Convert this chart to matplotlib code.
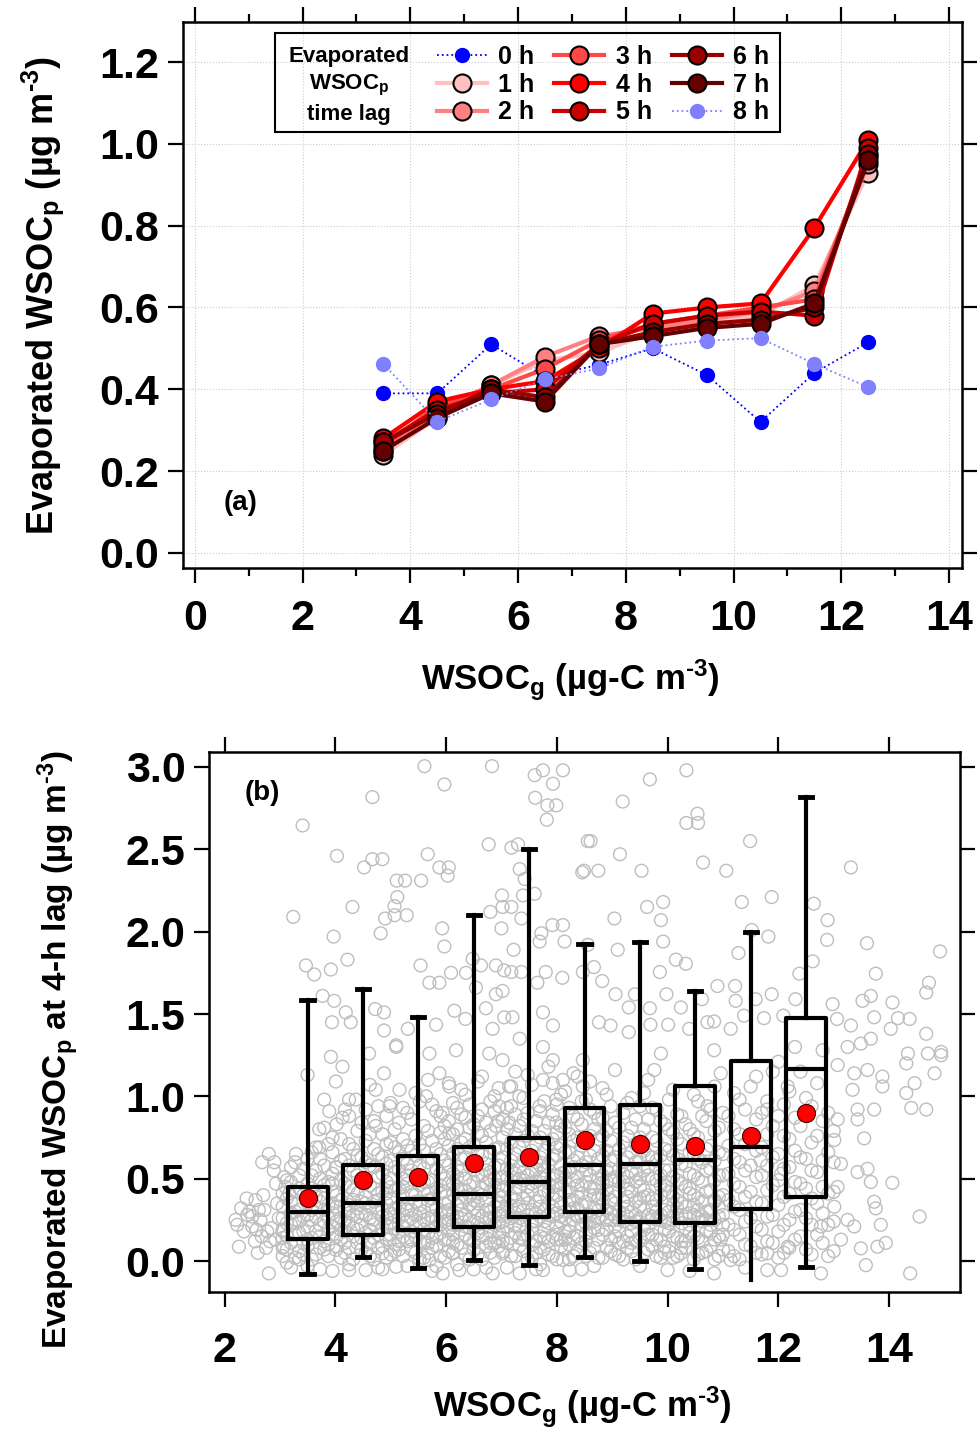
import numpy as np
import matplotlib
matplotlib.use("Agg")
import matplotlib.pyplot as plt
from matplotlib.patches import Rectangle

plt.rcParams['font.family'] = ['Liberation Sans', 'DejaVu Sans']
plt.rcParams['font.weight'] = 'bold'
plt.rcParams['axes.labelweight'] = 'bold'
plt.rcParams['mathtext.fontset'] = 'custom'
plt.rcParams['mathtext.rm'] = 'Liberation Sans:bold'
plt.rcParams['mathtext.it'] = 'Liberation Sans:bold'
plt.rcParams['mathtext.bf'] = 'Liberation Sans:bold'
plt.rcParams['mathtext.default'] = 'rm'

# ---- panel (a): evaporated WSOCp vs WSOCg, per time lag ----
wsocg_bins = [3.5, 4.5, 5.5, 6.5, 7.5, 8.5, 9.5, 10.5, 11.5, 12.5]
lag_labels = ['0 h', '1 h', '2 h', '3 h', '4 h', '5 h', '6 h', '7 h', '8 h']
lag_colors = ['#0000FF', '#FFC0C0', '#FF8080', '#FF4848', '#FF0000',
              '#CC0000', '#990000', '#640000', '#8080FF']
lag_0h = [0.39, 0.39, 0.51, 0.43, 0.46, 0.50, 0.435, 0.32, 0.44, 0.515]
lag_1h = [0.24, 0.33, 0.41, 0.47, 0.49, 0.54, 0.56, 0.58, 0.655, 0.93]
lag_2h = [0.25, 0.35, 0.41, 0.48, 0.53, 0.55, 0.57, 0.59, 0.64, 0.95]
lag_3h = [0.26, 0.36, 0.40, 0.45, 0.52, 0.56, 0.58, 0.60, 0.62, 0.97]
lag_4h = [0.28, 0.37, 0.40, 0.42, 0.50, 0.585, 0.60, 0.61, 0.795, 1.01]
lag_5h = [0.27, 0.35, 0.39, 0.40, 0.51, 0.56, 0.58, 0.59, 0.58, 0.99]
lag_6h = [0.27, 0.34, 0.40, 0.38, 0.51, 0.54, 0.56, 0.57, 0.60, 0.975]
lag_7h = [0.25, 0.33, 0.39, 0.37, 0.51, 0.53, 0.55, 0.56, 0.61, 0.96]
lag_8h = [0.462, 0.321, 0.375, 0.424, 0.451, 0.504, 0.519, 0.525, 0.462, 0.405]
lag_series = [lag_0h, lag_1h, lag_2h, lag_3h, lag_4h, lag_5h, lag_6h, lag_7h, lag_8h]

# ---- panel (b): box stats at 4-h lag ----
box_x = [3.5, 4.5, 5.5, 6.5, 7.5, 8.5, 9.5, 10.5, 11.5, 12.5]
box_q1 = [0.134, 0.158, 0.188, 0.208, 0.265, 0.30, 0.239, 0.229, 0.314, 0.387]
box_med = [0.296, 0.35, 0.375, 0.407, 0.482, 0.586, 0.589, 0.613, 0.694, 1.164]
box_q3 = [0.451, 0.583, 0.64, 0.69, 0.745, 0.93, 0.947, 1.063, 1.216, 1.474]
box_lo = [-0.079, 0.026, -0.045, 0.006, -0.024, 0.026, 0.002, -0.05, -0.115, -0.035]
box_hi = [1.585, 1.653, 1.48, 2.10, 2.50, 1.925, 1.935, 1.638, 2.00, 2.817]
box_mean = [0.38, 0.49, 0.512, 0.597, 0.633, 0.735, 0.71, 0.70, 0.759, 0.897]

# individual points
pts_upper = [
    (5.61, 3.005), (6.83, 3.005), (5.97, 2.894), (4.67, 2.817), (3.41, 2.645), (7.60, 2.95),
    (7.75, 2.98), (8.11, 2.98), (7.93, 2.898), (7.61, 2.813), (7.83, 2.767), (7.99, 2.767),
    (7.82, 2.68), (6.77, 2.53), (7.18, 2.51), (7.30, 2.53), (8.56, 2.55), (4.03, 2.46),
    (4.52, 2.39), (4.67, 2.44), (4.85, 2.44), (5.67, 2.47), (5.88, 2.39), (6.05, 2.39),
    (6.03, 2.34), (5.11, 2.31), (5.26, 2.31), (5.55, 2.31), (5.12, 2.21), (5.07, 2.155),
    (4.90, 2.08), (5.07, 2.10), (5.29, 2.10), (4.82, 1.99), (4.31, 2.15), (3.24, 2.09),
    (3.97, 1.97), (4.22, 1.83), (3.47, 1.795), (3.62, 1.74), (3.92, 1.77), (5.54, 1.795),
    (5.93, 2.02), (5.97, 1.91), (5.70, 1.69), (5.88, 1.69), (6.09, 1.75), (6.36, 1.75),
    (3.77, 1.61), (3.98, 1.58), (3.94, 1.45), (4.19, 1.51), (4.28, 1.45), (4.72, 1.53),
    (4.88, 1.51), (4.88, 1.40), (5.31, 1.41), (5.10, 1.31), (5.82, 1.435), (6.15, 1.52),
    (6.35, 1.47), (6.48, 1.835), (6.63, 1.795), (6.90, 1.795), (7.05, 1.765), (7.18, 1.755),
    (7.36, 1.755), (6.54, 1.66), (6.90, 1.62), (7.02, 1.64), (6.72, 1.535), (7.05, 1.48),
    (7.20, 1.48), (6.84, 1.41), (7.33, 1.35), (6.80, 2.12), (7.01, 2.22), (7.02, 2.15),
    (7.18, 2.15), (7.33, 2.38), (7.42, 2.32), (7.39, 2.22), (7.60, 2.23), (7.36, 2.08),
    (7.00, 2.02), (7.22, 1.89), (7.72, 1.99), (7.92, 2.04), (8.11, 2.04), (8.14, 1.94),
    (7.69, 1.94), (7.80, 1.755), (8.10, 1.72), (7.65, 1.69), (7.75, 1.51), (7.93, 1.43),
    (8.46, 2.36), (8.47, 1.755),
    (10.34, 2.98), (9.68, 2.925), (9.19, 2.79), (10.54, 2.716), (10.34, 2.66), (10.55, 2.66),
    (8.61, 2.55), (11.49, 2.55), (9.14, 2.47), (8.49, 2.37), (8.75, 2.37), (9.53, 2.37),
    (10.64, 2.42), (11.06, 2.37), (13.31, 2.39), (9.92, 2.18), (9.63, 2.15), (9.88, 2.07),
    (9.04, 2.08), (11.34, 2.18), (11.88, 2.21), (12.64, 2.17), (12.89, 2.07), (12.88, 1.95),
    (11.52, 2.01), (11.82, 1.97), (13.60, 1.93), (14.92, 1.88), (8.56, 1.92), (9.10, 1.89),
    (9.92, 1.94), (11.28, 1.87), (10.15, 1.83), (10.33, 1.805), (9.86, 1.755), (8.67, 1.785),
    (8.82, 1.70), (12.62, 1.82), (12.38, 1.745), (13.76, 1.745), (14.72, 1.69), (14.67, 1.63),
    (10.90, 1.67), (11.22, 1.67), (9.98, 1.62), (9.06, 1.62), (9.41, 1.62), (9.68, 1.535),
    (11.88, 1.62), (13.52, 1.58), (13.67, 1.61), (14.06, 1.57), (12.98, 1.56), (12.31, 1.59),
    (10.62, 1.59), (11.23, 1.58), (11.59, 1.59), (10.24, 1.54), (9.30, 1.54), (9.69, 1.435),
    (10.01, 1.435), (11.74, 1.475), (11.38, 1.49), (12.09, 1.49), (13.06, 1.47), (13.31, 1.43),
    (13.73, 1.48), (14.16, 1.475), (14.37, 1.47), (14.67, 1.38), (10.84, 1.455), (11.14, 1.41),
    (8.97, 1.43), (8.76, 1.45), (9.30, 1.39), (10.39, 1.41), (10.72, 1.45), (14.03, 1.41),
    (13.67, 1.35), (13.49, 1.32), (14.94, 1.27),
]
pts_lower = [
    (2.26, 0.087), (2.80, -0.075), (2.23, 0.22), (2.41, 0.28), (2.62, 0.31), (2.68, 0.60),
    (2.80, 0.65), (2.89, 0.55), (3.08, 0.51), (2.93, 0.47), (2.56, 0.37), (2.77, 0.18),
    (2.92, 0.13), (2.50, 0.21), (3.29, 0.65), (3.17, 0.41), (3.07, 0.087), (3.92, 1.24),
    (4.13, 1.18), (3.50, 1.13), (4.01, 1.09), (3.80, 0.98), (3.89, 0.91), (4.13, 0.87),
    (3.71, 0.80), (3.95, 0.75), (3.71, 0.69), (4.25, 0.98), (4.37, 0.98), (4.61, 1.26),
    (5.10, 1.30), (4.88, 1.14), (5.16, 1.04), (4.73, 1.04), (4.98, 0.94), (4.73, 0.82),
    (4.01, 0.57), (3.95, 0.47), (4.01, 0.067), (4.25, -0.055), (4.55, -0.055), (4.85, 0.047),
    (5.10, -0.035), (4.98, 0.13), (4.92, 0.41), (5.70, 1.26), (5.88, 1.14), (6.18, 1.28),
    (6.06, 1.06), (5.64, 1.00), (5.94, 0.90), (6.06, 0.775), (5.70, 0.006), (5.94, -0.075),
    (6.12, 0.047), (6.24, -0.055), (6.78, 1.26), (7.02, 1.22), (7.14, 1.06), (6.96, 0.94),
    (6.90, 0.82), (7.14, 0.84), (6.96, 0.17), (7.02, 0.047), (6.84, -0.075), (7.33, -0.075),
    (7.75, 1.30), (7.93, 1.22), (7.75, 1.10), (8.11, 1.10), (7.99, 0.98), (7.69, 0.94),
    (7.99, 0.84), (7.99, 0.13), (8.11, 0.006), (7.75, -0.055), (8.23, -0.055), (8.47, 1.22),
    (8.47, 1.06),
    (14.55, 0.27), (14.38, -0.075), (13.58, -0.025), (13.49, 0.077), (13.94, 0.11), (13.79, 0.087),
    (13.85, 0.22), (13.76, 0.32), (13.73, 0.36), (13.37, 0.21), (13.25, 0.25), (14.06, 0.475),
    (13.67, 0.48), (13.61, 0.56), (13.43, 0.54), (13.55, 0.745), (13.73, 0.92), (13.43, 0.92),
    (13.43, 0.86), (13.34, 1.04), (13.37, 1.14), (13.61, 1.16), (13.88, 1.12), (13.88, 1.06),
    (14.31, 1.02), (14.40, 0.93), (14.67, 0.92), (14.46, 1.08), (14.31, 1.20), (14.82, 1.14),
    (14.70, 1.26), (14.94, 1.25), (14.34, 1.26), (13.25, 1.30), (13.07, 1.19), (13.01, 0.735),
    (13.13, 0.59), (13.07, 0.45), (13.01, 0.33), (12.77, 0.21), (12.77, -0.075), (13.13, 0.13),
    (12.17, 0.087), (11.80, 0.047), (11.80, -0.055), (12.05, -0.055), (10.96, 0.13), (11.14, 0.006),
    (10.84, -0.075), (10.00, -0.055), (9.94, 0.087), (10.24, 0.047), (12.17, 1.06), (12.05, 0.53),
    (13.07, 0.86), (11.80, 0.92), (11.68, 0.61), (10.72, 0.94), (10.96, 1.14), (10.84, 1.28),
    (9.88, 1.26), (9.76, 1.16),
    (2.2, 0.25), (2.35, 0.18), (2.45, 0.30), (2.55, 0.12), (2.65, 0.25), (2.7, 0.40), (2.85, 0.20),
    (2.95, 0.35), (3.05, 0.18), (2.6, 0.05), (2.75, 0.08), (2.4, 0.38), (3.1, 0.45), (2.9, 0.60),
    (2.3, 0.32), (2.5, 0.27), (2.58, 0.19), (2.72, 0.31), (2.82, 0.12), (2.98, 0.26), (2.67, 0.15),
]
# dense cloud, read column by column (x: list of y)
core_cols = {
    3.05: [0.03, 0.14, 0.26, 0.33, 0.41, 0.19, 0.08],
    3.20: [-0.04, 0.11, 0.22, 0.36, 0.48, 0.29, 0.57],
    3.35: [0.06, 0.17, 0.31, 0.44, 0.24, 0.52, 0.01],
    3.50: [0.09, 0.21, 0.35, 0.47, 0.62, 0.28, 0.13, -0.03],
    3.65: [0.04, 0.18, 0.27, 0.39, 0.55, 0.33, 0.69],
    3.80: [0.12, 0.24, 0.38, 0.46, 0.07, 0.58, 0.31, 0.81],
    3.95: [-0.06, 0.16, 0.29, 0.42, 0.53, 0.21, 0.66, 0.35],
    4.10: [0.02, 0.13, 0.26, 0.37, 0.49, 0.61, 0.74, 0.19],
    4.25: [0.08, 0.23, 0.34, 0.45, 0.58, 0.29, 0.71, 0.88, -0.02],
    4.40: [0.11, 0.19, 0.32, 0.41, 0.52, 0.64, 0.27, 0.79],
    4.55: [0.05, 0.17, 0.28, 0.39, 0.48, 0.60, 0.35, 0.92, 0.73],
    4.70: [0.01, 0.14, 0.25, 0.36, 0.44, 0.57, 0.68, 0.22, 0.85],
    4.85: [0.09, 0.20, 0.31, 0.42, 0.53, 0.63, 0.27, 0.77, -0.05],
    5.00: [0.04, 0.16, 0.29, 0.38, 0.50, 0.61, 0.72, 0.23, 0.96, 0.45],
    5.15: [0.07, 0.18, 0.33, 0.44, 0.55, 0.66, 0.26, 0.84, 0.12],
    5.30: [-0.03, 0.12, 0.24, 0.35, 0.47, 0.59, 0.70, 0.31, 0.90, 0.52],
    5.45: [0.05, 0.15, 0.28, 0.40, 0.51, 0.64, 0.76, 0.21, 1.02, 0.36],
    5.60: [0.02, 0.19, 0.30, 0.43, 0.56, 0.67, 0.25, 0.82, 0.11, 0.48],
    5.75: [0.08, 0.14, 0.27, 0.38, 0.49, 0.62, 0.73, 0.33, 0.95, -0.06],
    5.90: [0.03, 0.17, 0.29, 0.41, 0.53, 0.65, 0.78, 0.22, 0.88, 0.46],
    6.05: [0.06, 0.13, 0.25, 0.36, 0.47, 0.58, 0.70, 0.31, 1.08, 0.85, 0.19],
    6.20: [-0.02, 0.10, 0.22, 0.34, 0.45, 0.57, 0.68, 0.27, 0.80, 0.51, 0.93],
    6.35: [0.04, 0.16, 0.28, 0.39, 0.50, 0.63, 0.74, 0.21, 0.87, 0.43, 1.01],
    6.50: [0.07, 0.12, 0.24, 0.37, 0.48, 0.60, 0.71, 0.32, 0.83, 0.55, -0.05],
    6.65: [0.01, 0.15, 0.27, 0.40, 0.52, 0.64, 0.76, 0.20, 0.92, 0.44, 1.12],
    6.80: [0.05, 0.18, 0.30, 0.42, 0.54, 0.66, 0.26, 0.79, 0.11, 0.49, 0.97],
    6.95: [0.09, 0.14, 0.23, 0.35, 0.46, 0.58, 0.69, 0.29, 0.85, 0.40, 1.05],
    7.10: [-0.04, 0.11, 0.21, 0.33, 0.45, 0.56, 0.68, 0.80, 0.27, 0.50, 0.93],
    7.25: [0.03, 0.17, 0.29, 0.41, 0.53, 0.65, 0.77, 0.22, 0.89, 0.37, 1.15],
    7.40: [0.06, 0.13, 0.25, 0.38, 0.49, 0.61, 0.73, 0.31, 0.86, 0.54, 0.99],
    7.55: [0.02, 0.19, 0.31, 0.43, 0.55, 0.67, 0.24, 0.79, 0.10, 0.47, 1.07],
    7.70: [0.08, 0.15, 0.27, 0.39, 0.51, 0.63, 0.75, 0.33, 0.91, 0.58, -0.02],
    7.85: [0.04, 0.12, 0.23, 0.35, 0.47, 0.59, 0.71, 0.28, 0.84, 0.42, 1.18],
    8.00: [0.01, 0.16, 0.29, 0.40, 0.52, 0.64, 0.78, 0.21, 0.95, 0.46, 0.69],
    8.15: [0.07, 0.18, 0.30, 0.42, 0.54, 0.66, 0.26, 0.81, 0.13, 0.50, 1.03],
    8.30: [0.03, 0.14, 0.25, 0.37, 0.49, 0.61, 0.73, 0.32, 0.88, 0.57, 1.14],
    8.45: [-0.05, 0.11, 0.22, 0.34, 0.46, 0.58, 0.70, 0.27, 0.83, 0.41, 0.97],
    8.60: [0.05, 0.17, 0.28, 0.40, 0.52, 0.64, 0.76, 0.23, 0.92, 0.45, 1.09],
    8.75: [0.02, 0.13, 0.26, 0.38, 0.50, 0.62, 0.74, 0.31, 0.86, 0.55, 0.19],
    8.90: [0.08, 0.19, 0.31, 0.43, 0.55, 0.67, 0.79, 0.25, 1.01, 0.48],
    9.05: [0.04, 0.15, 0.27, 0.39, 0.51, 0.63, 0.21, 0.84, 0.35, 1.16],
    9.20: [0.01, 0.12, 0.24, 0.36, 0.48, 0.60, 0.72, 0.29, 0.90, 0.53],
    9.35: [0.06, 0.18, 0.30, 0.42, 0.54, 0.66, 0.23, 0.81, 0.11, 0.99],
    9.50: [-0.03, 0.14, 0.26, 0.38, 0.50, 0.62, 0.75, 0.33, 0.94, 0.45],
    9.65: [0.07, 0.16, 0.28, 0.40, 0.52, 0.64, 0.21, 0.86, 0.57, 1.10],
    9.80: [0.03, 0.13, 0.25, 0.37, 0.49, 0.61, 0.73, 0.30, 0.92],
    9.95: [0.05, 0.19, 0.31, 0.43, 0.55, 0.68, 0.24, 0.83, 0.46],
    10.10: [0.02, 0.15, 0.27, 0.39, 0.51, 0.64, 0.78, 0.34, 1.04],
    10.25: [0.08, 0.12, 0.23, 0.35, 0.47, 0.59, 0.71, 0.28, 0.88],
    10.40: [-0.06, 0.17, 0.29, 0.41, 0.53, 0.66, 0.22, 0.80, 0.44],
    10.55: [0.04, 0.14, 0.26, 0.38, 0.50, 0.62, 0.75, 0.31, 0.97],
    10.70: [0.06, 0.18, 0.30, 0.42, 0.55, 0.68, 0.25, 0.85],
    10.85: [0.01, 0.13, 0.25, 0.37, 0.49, 0.61, 0.36, 0.79, 1.06],
    11.00: [0.07, 0.16, 0.28, 0.40, 0.52, 0.65, 0.22, 0.90],
    11.20: [0.03, 0.19, 0.33, 0.47, 0.62, 0.80, 1.02],
    11.40: [0.10, 0.24, 0.39, 0.55, 0.71, 0.92, -0.04],
    11.60: [0.05, 0.21, 0.36, 0.51, 0.67, 0.86, 1.12],
    11.80: [0.12, 0.27, 0.43, 0.58, 0.77, 0.97],
    12.00: [0.02, 0.18, 0.34, 0.49, 0.65, 0.88, 1.21],
    12.20: [0.08, 0.25, 0.41, 0.57, 0.74, 1.03],
    12.40: [0.15, 0.31, 0.47, 0.63, 0.82, 1.15],
    12.60: [0.04, 0.22, 0.38, 0.55, 0.72, 0.94],
    12.80: [0.11, 0.29, 0.45, 0.61, 0.85, 1.28],
    13.00: [0.06, 0.24, 0.42, 0.60, 0.79],
}
core_cols_mid = {
    3.125: [0.07, 0.23, 0.38, 0.15, 0.49, -0.01],
    3.275: [0.02, 0.16, 0.30, 0.42, 0.60, 0.25],
    3.425: [0.11, 0.27, 0.40, 0.04, 0.56, 0.18],
    3.575: [0.01, 0.14, 0.31, 0.44, 0.25, 0.66, 0.52],
    3.725: [0.08, 0.22, 0.36, 0.50, 0.15, 0.62, -0.05],
    3.875: [0.03, 0.19, 0.34, 0.48, 0.26, 0.71, 0.10],
    4.025: [0.09, 0.24, 0.40, 0.57, 0.15, 0.33, 0.83],
    4.175: [0.05, 0.18, 0.31, 0.47, 0.62, 0.24, 0.92, 0.11],
    4.325: [0.01, 0.15, 0.28, 0.43, 0.55, 0.68, 0.37, 0.20],
    4.475: [0.07, 0.22, 0.36, 0.50, 0.63, 0.84, 0.14, 0.29],
    4.625: [0.03, 0.19, 0.33, 0.46, 0.58, 0.77, 0.11, 0.26, 1.07],
    4.775: [0.08, 0.16, 0.30, 0.41, 0.51, 0.65, 0.37, 0.94, -0.04],
    4.925: [0.02, 0.13, 0.26, 0.35, 0.48, 0.59, 0.71, 0.21, 0.88],
    5.075: [0.10, 0.20, 0.32, 0.43, 0.57, 0.69, 0.80, 0.27, 0.06],
    5.225: [0.03, 0.15, 0.28, 0.39, 0.50, 0.62, 0.74, 0.21, 0.93, 0.45],
    5.375: [0.07, 0.18, 0.31, 0.42, 0.55, 0.67, 0.26, 0.86, 0.13],
    5.525: [0.01, 0.12, 0.23, 0.34, 0.46, 0.58, 0.71, 0.29, 0.97, 0.52],
    5.675: [0.05, 0.17, 0.26, 0.37, 0.48, 0.60, 0.79, 0.41, 1.10, 0.11],
    5.825: [0.09, 0.21, 0.32, 0.44, 0.56, 0.68, 0.25, 0.91, -0.03, 0.15],
    5.975: [0.02, 0.13, 0.24, 0.35, 0.50, 0.61, 0.74, 0.30, 0.82, 0.42],
    6.125: [0.05, 0.16, 0.28, 0.40, 0.53, 0.65, 0.77, 0.22, 0.96, 0.11, 0.47],
    6.275: [0.08, 0.19, 0.31, 0.43, 0.55, 0.62, 0.72, 0.26, 0.89, 0.36, 1.04],
    6.425: [0.01, 0.13, 0.25, 0.34, 0.46, 0.58, 0.69, 0.81, 0.20, 0.40, 0.95],
    6.575: [0.04, 0.17, 0.29, 0.41, 0.52, 0.66, 0.78, 0.23, 0.88, 0.35, 1.09],
    6.725: [0.09, 0.14, 0.26, 0.37, 0.47, 0.59, 0.72, 0.31, 0.84, 0.55, -0.04],
    6.875: [0.02, 0.11, 0.22, 0.33, 0.45, 0.57, 0.68, 0.27, 0.91, 0.50, 1.00],
    7.025: [0.06, 0.18, 0.30, 0.39, 0.51, 0.63, 0.75, 0.24, 0.86, 0.43, 0.12],
    7.175: [0.03, 0.14, 0.26, 0.38, 0.49, 0.61, 0.72, 0.33, 0.94, 0.55, 1.06],
    7.325: [0.09, 0.21, 0.33, 0.45, 0.57, 0.69, 0.26, 0.82, 0.14, 0.50, 1.00],
    7.475: [0.01, 0.16, 0.28, 0.40, 0.52, 0.64, 0.76, 0.35, 0.90, 0.45, 1.13],
    7.625: [0.05, 0.12, 0.24, 0.36, 0.48, 0.60, 0.71, 0.29, 0.85, 0.55, -0.05],
    7.775: [0.07, 0.19, 0.31, 0.43, 0.55, 0.67, 0.79, 0.24, 0.97, 0.14, 0.50],
    7.925: [0.03, 0.15, 0.27, 0.38, 0.50, 0.62, 0.74, 0.33, 0.89, 0.45, 1.08],
    8.075: [0.09, 0.13, 0.24, 0.35, 0.47, 0.58, 0.70, 0.27, 0.82, 0.53, 1.01],
    8.225: [0.01, 0.18, 0.30, 0.42, 0.54, 0.66, 0.77, 0.22, 0.93, 0.37, 0.10],
    8.375: [0.06, 0.15, 0.27, 0.39, 0.51, 0.63, 0.75, 0.32, 0.86, 0.46, 1.12],
    8.525: [0.03, 0.12, 0.23, 0.36, 0.48, 0.60, 0.72, 0.28, 0.98, 0.55, 0.17],
    8.675: [0.08, 0.20, 0.32, 0.44, 0.56, 0.67, 0.80, 0.24, 0.90, 0.40, -0.03],
    8.825: [0.02, 0.16, 0.28, 0.40, 0.52, 0.64, 0.76, 0.34, 0.87, 0.47, 1.05],
    8.975: [0.06, 0.13, 0.25, 0.37, 0.49, 0.61, 0.73, 0.29, 0.94, 0.56],
    9.125: [0.03, 0.18, 0.30, 0.42, 0.56, 0.68, 0.25, 0.81, 0.11, 0.48],
    9.275: [0.08, 0.15, 0.27, 0.39, 0.51, 0.63, 0.76, 0.33, 0.96, 0.44],
    9.425: [0.01, 0.12, 0.24, 0.36, 0.48, 0.60, 0.71, 0.28, 0.86, 0.53],
    9.575: [0.05, 0.19, 0.31, 0.43, 0.55, 0.67, 0.22, 0.80, 0.39, 1.02],
    9.725: [0.09, 0.16, 0.27, 0.38, 0.50, 0.63, 0.75, 0.33, 0.93],
    9.875: [0.02, 0.13, 0.25, 0.40, 0.52, 0.64, 0.28, 0.85, 0.46],
    10.025: [0.06, 0.18, 0.30, 0.42, 0.55, 0.67, 0.23, 0.80, 0.98],
    10.175: [0.03, 0.14, 0.26, 0.37, 0.49, 0.62, 0.74, 0.32, 0.89],
    10.325: [0.08, 0.20, 0.33, 0.45, 0.58, 0.27, 0.83, 0.12],
    10.475: [0.01, 0.15, 0.28, 0.40, 0.52, 0.65, 0.77, 0.34, 1.01],
    10.625: [0.05, 0.12, 0.24, 0.36, 0.48, 0.60, 0.27, 0.88],
    10.775: [0.09, 0.18, 0.31, 0.43, 0.56, 0.70, 0.22, 0.92],
    10.925: [0.03, 0.15, 0.27, 0.39, 0.52, 0.66, 0.33, 0.81],
    11.10: [0.06, 0.22, 0.37, 0.53, 0.70, 0.88],
    11.30: [0.01, 0.16, 0.31, 0.45, 0.60, 0.77, 0.98],
    11.50: [0.09, 0.26, 0.42, 0.58, 0.75, 1.06],
    11.70: [0.04, 0.19, 0.35, 0.52, 0.69, 0.90],
    11.90: [0.11, 0.28, 0.46, 0.63, 0.82, 1.15],
    12.10: [0.05, 0.22, 0.39, 0.56, 0.76, 0.95],
    12.30: [0.13, 0.30, 0.48, 0.67, 0.87, 1.30],
    12.50: [0.07, 0.26, 0.44, 0.62, 0.99],
    12.70: [0.16, 0.35, 0.54, 0.76, 1.08],
    12.90: [0.03, 0.22, 0.41, 0.66, 0.90],
}

fig = plt.figure(figsize=(9.77, 14.32), dpi=100)
ax1 = fig.add_axes([183 / 977, 1 - 568 / 1432, 779 / 977, 546 / 1432])
ax2 = fig.add_axes([209 / 977, 1 - 1292 / 1432, 751 / 977, 540 / 1432])

def style_axis(ax):
    for s in ax.spines.values():
        s.set_linewidth(1.8)
    ax.tick_params(which='both', direction='out', top=True, right=True, width=1.6,
                   labelsize=31)
    ax.tick_params(which='major', length=11)
    ax.tick_params(which='minor', length=6)

# ---- panel (a)
for i, (lab, col, vals) in enumerate(zip(lag_labels, lag_colors, lag_series)):
    if lab in ('0 h', '8 h'):
        ax1.plot(wsocg_bins, vals, ls=':', lw=1.3, color=col, marker='o', ms=10,
                 mfc=col, mec=col, label=lab, zorder=3 + i)
    else:
        ax1.plot(wsocg_bins, vals, ls='-', lw=3, color=col, marker='o', ms=13,
                 mfc=col, mec='black', mew=1.5, label=lab, zorder=3 + i)

ax1.set_xlim(-0.22, 14.24)
ax1.set_ylim(-0.037, 1.298)
ax1.set_xticks(np.arange(0, 15, 2))
ax1.set_xticks(np.arange(1, 15, 2), minor=True)
ax1.set_yticks(np.arange(0, 1.21, 0.2))
ax1.set_yticklabels(['0.0', '0.2', '0.4', '0.6', '0.8', '1.0', '1.2'])
ax1.grid(True, which='major', ls=':', lw=0.8, color='#CCCCCC')
style_axis(ax1)
ax1.tick_params(axis='x', which='both', pad=11)
ax1.tick_params(axis='y', pad=6)
ax1.set_xlabel(r'WSOC$_\mathregular{g}$ (µg-C m$^{\text{-3}}$)', fontsize=25)
ax1.set_ylabel(r'Evaporated WSOC$_\mathregular{p}$ (µg m$^{\text{-3}}$)', fontsize=26)
ax1.xaxis.set_label_coords(0.497, -0.165)
ax1.yaxis.set_label_coords(-0.150, 0.5)
ax1.text(0.84, 0.122, '(a)', fontsize=20, ha='center', va='center')

handles, labels = ax1.get_legend_handles_labels()
ax1.legend(handles, labels, ncol=3, loc='upper left', bbox_to_anchor=(0.326, 0.958),
           frameon=False, fontsize=18, handlelength=2.0, columnspacing=0.8,
           labelspacing=0.15, handletextpad=0.45, borderaxespad=0, borderpad=0)
ax1.add_patch(Rectangle((0.118, 0.799), 0.648, 0.181, transform=ax1.transAxes,
                        fill=False, lw=1.5, ec='black', zorder=10))
ax1.text(0.213, 0.884, 'Evaporated\nWSOC$_\\mathregular{p}$\ntime lag', transform=ax1.transAxes,
         fontsize=16, ha='center', va='center', linespacing=1.35, zorder=11)

# ---- panel (b)
cloud = pts_upper + pts_lower
for cols in (core_cols, core_cols_mid):
    for cx0, ys in cols.items():
        cloud += [(cx0, yv) for yv in ys]
cx, cy = zip(*cloud)
ax2.scatter(cx, cy, s=85, facecolors='none', edgecolors='#BEBEBE', linewidths=1.0, zorder=2)

stats = []
for q1, med, q3, lo, hi, mn in zip(box_q1, box_med, box_q3, box_lo, box_hi, box_mean):
    stats.append(dict(q1=q1, med=med, q3=q3, whislo=lo, whishi=hi, mean=mn, fliers=[]))
bp = ax2.bxp(stats, positions=box_x, widths=0.72, showmeans=True, manage_ticks=False,
             patch_artist=False,
             boxprops=dict(color='black', lw=3),
             medianprops=dict(color='black', lw=3),
             whiskerprops=dict(color='black', lw=3),
             capprops=dict(color='black', lw=3.5),
             meanprops=dict(marker='o', mfc='#FF0000', mec='#440000', mew=0.8, ms=13),
             capwidths=0.22)
bp['caps'][16].set_visible(False)

ax2.set_xlim(1.72, 15.28)
ax2.set_ylim(-0.188, 3.091)
ax2.set_xticks(np.arange(2, 15, 2))
ax2.set_yticks(np.arange(0, 3.01, 0.5))
ax2.set_yticklabels(['0.0', '0.5', '1.0', '1.5', '2.0', '2.5', '3.0'])
style_axis(ax2)
ax2.tick_params(axis='x', pad=17)
ax2.tick_params(axis='y', pad=6)
ax2.set_xlabel(r'WSOC$_\mathregular{g}$ (µg-C m$^{\text{-3}}$)', fontsize=25)
ax2.set_ylabel(r'Evaporated WSOC$_\mathregular{p}$ at 4-h lag (µg m$^{\text{-3}}$)', fontsize=24)
ax2.xaxis.set_label_coords(0.497, -0.172)
ax2.yaxis.set_label_coords(-0.170, 0.448)
ax2.text(2.68, 2.84, '(b)', fontsize=20, ha='center', va='center')

fig.savefig('out.png', dpi=100)
